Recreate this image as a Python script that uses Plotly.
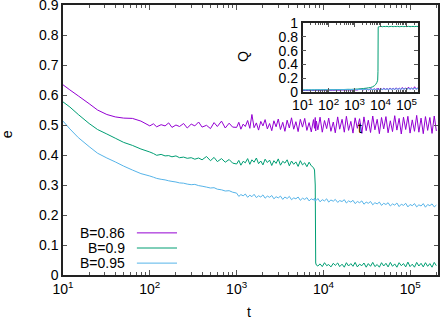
import plotly.graph_objects as go

# time grid of the main panel (t)
t_early = [10, 12, 15, 20, 25, 32, 40, 50, 63, 79]
t_mid = [100, 110, 120, 135, 150, 165, 180, 200, 220, 245, 270, 300, 330, 365,
         400, 450, 500, 550, 600, 670, 740, 820, 900]
t_late = [1000, 1060, 1120, 1190, 1260, 1340, 1420, 1500, 1590, 1690,
          1790, 1900, 2010, 2130, 2260, 2400, 2540, 2690, 2850, 3020,
          3200, 3400, 3600, 3820, 4050, 4290, 4550, 4820, 5110, 5420,
          5740, 6090, 6450, 6840, 7250, 7680, 7900, 8050, 8150, 8300,
          8630, 9150, 9700, 10300, 10900, 11500, 12200, 13000, 13700, 14600,
          15400, 16400, 17400, 18400, 19500, 20700, 21900, 23200, 24600, 26100,
          27700, 29300, 31100, 32900, 34900, 37000, 39200, 41600, 44100, 46700,
          49500, 52500, 55600, 59000, 62500, 66300, 70200, 74500, 78900, 83700,
          88700, 94000, 99600, 105600, 112000, 118700, 125800, 133300, 141300, 149800,
          158800, 168300, 178400, 189100, 200000]
t = t_early + t_mid + t_late

# e(t) for B=0.86
e_086 = [0.634, 0.617, 0.597, 0.571, 0.55, 0.535, 0.527, 0.523, 0.522, 0.513,
         0.497, 0.504, 0.494, 0.501, 0.497, 0.507, 0.492, 0.5, 0.495, 0.505,
         0.49, 0.503, 0.497, 0.51, 0.493, 0.499, 0.488, 0.508, 0.495, 0.513,
         0.49, 0.506, 0.493,
         0.492, 0.509, 0.486, 0.503, 0.495, 0.515, 0.489, 0.535, 0.491, 0.507,
         0.483, 0.512, 0.497, 0.518, 0.487, 0.505, 0.481, 0.514, 0.494, 0.52,
         0.485, 0.509, 0.479, 0.516, 0.49, 0.524, 0.486, 0.511, 0.478, 0.519,
         0.493, 0.522, 0.482, 0.508, 0.477, 0.518, 0.489, 0.525, 0.48, 0.513,
         0.484, 0.526, 0.476, 0.515, 0.488, 0.523, 0.479, 0.51, 0.474, 0.527,
         0.486, 0.519, 0.476, 0.529, 0.482, 0.512, 0.473, 0.524, 0.489, 0.521,
         0.472, 0.527, 0.481, 0.516, 0.475, 0.53, 0.484, 0.519, 0.471, 0.525,
         0.487, 0.528, 0.474, 0.514, 0.478, 0.531, 0.483, 0.522, 0.47, 0.526,
         0.485, 0.529, 0.473, 0.517, 0.479, 0.532, 0.476, 0.523, 0.471, 0.528,
         0.482, 0.525, 0.472, 0.53, 0.48]

# e(t) for B=0.9
e_09 = [0.577, 0.56, 0.535, 0.505, 0.485, 0.47, 0.456, 0.442, 0.432, 0.42,
        0.41, 0.405, 0.399, 0.402, 0.397, 0.398, 0.394, 0.397, 0.391, 0.393,
        0.389, 0.391, 0.386, 0.39, 0.384, 0.395, 0.381, 0.392, 0.378, 0.388,
        0.376, 0.385, 0.373,
        0.37, 0.382, 0.366, 0.379, 0.374, 0.388, 0.369, 0.384, 0.376, 0.39,
        0.371, 0.38, 0.367, 0.386, 0.375, 0.383, 0.365, 0.381, 0.372, 0.387,
        0.366, 0.379, 0.373, 0.384, 0.364, 0.38, 0.369, 0.377, 0.362, 0.381,
        0.367, 0.374, 0.361, 0.376, 0.364, 0.358, 0.35, 0.30, 0.04, 0.033,
        0.03, 0.037, 0.028, 0.041, 0.031, 0.035, 0.027, 0.039, 0.032, 0.04,
        0.028, 0.036, 0.026, 0.041, 0.03, 0.038, 0.029, 0.042, 0.027, 0.036,
        0.031, 0.04, 0.026, 0.038, 0.029, 0.042, 0.028, 0.035, 0.026, 0.041,
        0.03, 0.039, 0.027, 0.042, 0.029, 0.037, 0.026, 0.041, 0.031, 0.038,
        0.027, 0.043, 0.028, 0.036, 0.026, 0.042, 0.03, 0.039, 0.027, 0.041,
        0.029, 0.038, 0.026, 0.042, 0.031]

# e(t) for B=0.95
e_095 = [0.513, 0.487, 0.458, 0.428, 0.406, 0.39, 0.377, 0.363, 0.35, 0.338,
         0.33, 0.326, 0.322, 0.319, 0.317, 0.314, 0.312, 0.31, 0.307, 0.306,
         0.303, 0.301, 0.302, 0.298, 0.296, 0.293, 0.29, 0.291, 0.286, 0.284,
         0.28, 0.281, 0.276,
         0.273, 0.262, 0.268, 0.264, 0.27, 0.259, 0.266, 0.261, 0.269, 0.258, 0.264, 0.26,
         0.267, 0.256, 0.263, 0.259, 0.265, 0.254, 0.261, 0.257, 0.263, 0.252, 0.26, 0.255,
         0.262, 0.251, 0.257, 0.254, 0.26, 0.249, 0.256, 0.252, 0.258, 0.247, 0.254, 0.25,
         0.256, 0.246, 0.252, 0.249, 0.255, 0.244, 0.251, 0.247, 0.254, 0.243, 0.25, 0.246,
         0.252, 0.242, 0.248, 0.245, 0.251, 0.24, 0.247, 0.243, 0.249, 0.238, 0.245, 0.241,
         0.247, 0.236, 0.243, 0.239, 0.245, 0.234, 0.241, 0.237, 0.243, 0.232, 0.239, 0.235,
         0.241, 0.23, 0.237, 0.233, 0.24, 0.228, 0.236, 0.232, 0.239, 0.227, 0.235, 0.231,
         0.238, 0.227, 0.234, 0.23, 0.238, 0.226, 0.235, 0.231, 0.237, 0.227, 0.233]

# inset: Q(t) on its own coarser grid
tq = [10, 13, 17, 22, 29, 38, 50, 65, 85, 110,
      145, 190, 250, 330, 430, 560, 740, 970, 1270, 1660,
      2180, 2850, 3500, 4200, 5000, 5800, 6600, 7300, 7800, 8000,
      8150, 8300, 9000, 10300, 11800, 13500, 15500, 17800, 20400, 23400,
      26800, 30700, 35200, 40300, 46200, 52900, 60600, 69400, 79500, 91100,
      104000, 120000, 137000, 157000, 180000, 206000, 236000, 290000]

q_086 = [0.02, 0.021, 0.02, 0.022, 0.021, 0.023, 0.022, 0.024, 0.023, 0.025,
         0.024, 0.026, 0.025, 0.028, 0.026, 0.03, 0.027, 0.031,
         0.028, 0.042, 0.03, 0.045, 0.029, 0.048, 0.031, 0.046, 0.03, 0.05,
         0.032, 0.047, 0.031, 0.052, 0.033, 0.049, 0.032, 0.055, 0.034, 0.05,
         0.033, 0.058, 0.035, 0.053, 0.034, 0.06, 0.036, 0.055, 0.035, 0.065,
         0.037, 0.058, 0.036, 0.07, 0.038, 0.06, 0.037, 0.075, 0.04, 0.065]

q_09 = [0.03, 0.03, 0.031, 0.03, 0.031, 0.032, 0.031, 0.032, 0.033, 0.032,
        0.034, 0.033, 0.035, 0.034, 0.036, 0.038, 0.037, 0.04,
        0.042, 0.045, 0.05, 0.055, 0.06, 0.065, 0.075, 0.09, 0.11, 0.14,
        0.17, 0.3, 0.93, 0.945,
        0.948, 0.952, 0.947, 0.951, 0.949, 0.953, 0.947, 0.95, 0.952, 0.948,
        0.951, 0.949, 0.953, 0.947, 0.95, 0.952, 0.948, 0.951, 0.949, 0.952,
        0.948, 0.95, 0.951, 0.949, 0.952, 0.95]

q_095 = [0.03, 0.03, 0.031, 0.03, 0.031, 0.031, 0.032, 0.031, 0.032, 0.032,
         0.033, 0.032, 0.033, 0.033, 0.034, 0.033, 0.034, 0.035,
         0.034, 0.037, 0.035, 0.038, 0.035, 0.039, 0.036, 0.039, 0.036, 0.04,
         0.037, 0.041, 0.037, 0.041, 0.038, 0.042, 0.038, 0.043, 0.039, 0.043,
         0.039, 0.044, 0.04, 0.045, 0.04, 0.045, 0.041, 0.046, 0.041, 0.047,
         0.042, 0.047, 0.042, 0.048, 0.043, 0.048, 0.043, 0.049, 0.044, 0.05]

labels = ['B=0.86', 'B=0.9', 'B=0.95']
colors = ['#9400d3', '#009e73', '#56b4e9']

# tick labels
e_ticks = [0, 0.1, 0.2, 0.3, 0.4, 0.5, 0.6, 0.7, 0.8, 0.9]
e_ticktext = ['0', '0.1', '0.2', '0.3', '0.4', '0.5', '0.6', '0.7', '0.8', '0.9']
q_ticks = [0, 0.2, 0.4, 0.6, 0.8, 1]
q_ticktext = ['0', '0.2', '0.4', '0.6', '0.8', '1']
decades = [10, 100, 1000, 10000, 100000]
dec_text = ['10<sup>%d</sup>' % k for k in range(1, 6)]
minor_vals = [m * d for d in [1, 10, 100, 1000, 10000, 100000] for m in range(2, 10)]

FONT = 'Liberation Sans, Arial, sans-serif'

fig = go.Figure()

for e, c in zip([e_086, e_09, e_095], colors):
    fig.add_trace(go.Scatter(x=t, y=e, mode='lines',
                             line=dict(color=c, width=1, simplify=False),
                             showlegend=False, hoverinfo='skip', xaxis='x', yaxis='y'))

for q, c in zip([q_086, q_09, q_095], colors):
    fig.add_trace(go.Scatter(x=tq, y=q, mode='lines',
                             line=dict(color=c, width=1, simplify=False),
                             showlegend=False, hoverinfo='skip', xaxis='x2', yaxis='y2'))

axis_common = dict(showline=True, linecolor='#222', linewidth=1.5, mirror='ticks',
                   ticks='inside', tickcolor='#555', showgrid=False, zeroline=False,
                   automargin=False, ticklabeloverflow='allow',
                   tickfont=dict(family=FONT, size=14, color='black'))

fig.update_layout(
    width=440, height=322,
    margin=dict(l=63, r=2, t=5, b=47, autoexpand=False),
    paper_bgcolor='white', plot_bgcolor='white',
    font=dict(family=FONT, size=14, color='black'),
    xaxis=dict(type='log', range=[1, 5.32], domain=[0, 1],
               tickmode='array', tickvals=decades, ticktext=dec_text, ticklen=5,
               minor=dict(tickmode='array', tickvals=minor_vals, ticks='inside',
                          ticklen=3, tickcolor='#555', showgrid=False),
               **axis_common),
    yaxis=dict(range=[0, 0.9], tickmode='array', tickvals=e_ticks, ticktext=e_ticktext,
               ticklen=4, domain=[0, 1], **axis_common),
    xaxis2=dict(type='log', range=[1, 5.45], domain=[0.639, 0.947], anchor='y2',
                tickmode='array', tickvals=decades, ticktext=dec_text, ticklen=4,
                minor=dict(tickmode='array', tickvals=minor_vals, ticks='inside',
                           ticklen=2, tickcolor='#555', showgrid=False),
                **axis_common),
    yaxis2=dict(range=[0, 1], tickmode='array', tickvals=q_ticks, ticktext=q_ticktext,
                ticklen=4, domain=[0.678, 0.933], anchor='x2', **axis_common),
)

# axis titles (pinned by their centres)
titles = [('e', -0.15, 0.52, -90), ('t', 0.496, -0.137, 0),
          ('Q', 0.48, 0.807, -90), ('t', 0.792, 0.544, 0)]
for txt, ax, ay, ang in titles:
    fig.add_annotation(text=txt, x=ax, y=ay, xref='paper', yref='paper',
                       xanchor='center', yanchor='middle', showarrow=False,
                       textangle=ang, font=dict(size=14))

# key in the lower left corner: label on the left, line sample on the right
key_y = [0.156, 0.1, 0.044]
for lab, c, ky in zip(labels, colors, key_y):
    fig.add_annotation(text=lab, x=0.171, y=ky, xref='paper', yref='paper',
                       xanchor='right', yanchor='middle', showarrow=False,
                       font=dict(size=14))
    fig.add_shape(type='line', x0=0.197, x1=0.304, y0=ky, y1=ky,
                  xref='paper', yref='paper', line=dict(color=c, width=1))

# drop the default page margin so the figure sits at the window's corner
fig.write_html("out.html", config={'displayModeBar': False},
               post_script="document.body.style.margin='0';")
